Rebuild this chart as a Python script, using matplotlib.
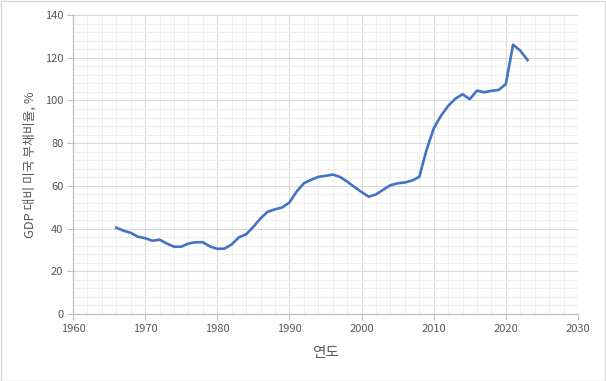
import matplotlib
matplotlib.use("Agg")
import matplotlib.pyplot as plt
from matplotlib.patches import Rectangle
from matplotlib.ticker import MultipleLocator

plt.rcParams['font.family'] = ['Noto Sans CJK KR', 'DejaVu Sans']

# 미국 GDP 대비 부채비율
years = list(range(1966, 2024))
debt_ratio = [
    40.4, 39.0, 38.0, 36.2, 35.5, 34.3, 34.8, 33.0, 31.5, 31.5,
    33.0, 33.6, 33.6, 31.6, 30.5, 30.6, 32.6, 35.9, 37.3, 40.8,
    44.8, 47.9, 49.0, 49.9, 52.2, 57.3, 61.2, 62.8, 64.2, 64.7,
    65.3, 64.2, 62.0, 59.5, 57.1, 54.9, 56.0, 58.2, 60.3, 61.2,
    61.6, 62.5, 64.2, 76.8, 86.9, 92.8, 97.4, 100.8, 102.9, 100.6,
    104.6, 103.8, 104.5, 104.9, 107.7, 126.1, 123.3, 118.9,
]
x_label = "연도"
y_label = "GDP 대비 미국 부채비율, %"

tick_color = "#595959"
major_grid = "#D9D9D9"
minor_grid = "#EFEFEF"

fig = plt.figure(figsize=(6.06, 3.81), dpi=100)
ax = fig.add_axes([73 / 606, 1 - 314 / 381, 505 / 606, 299 / 381])

ax.plot(years, debt_ratio, color="#4472C4", linewidth=1.9, zorder=3)

ax.set_xlim(1960, 2030)
ax.set_ylim(0, 140)
ax.xaxis.set_major_locator(MultipleLocator(10))
ax.xaxis.set_minor_locator(MultipleLocator(2))
ax.yaxis.set_major_locator(MultipleLocator(20))
ax.yaxis.set_minor_locator(MultipleLocator(4))

ax.grid(which="minor", color=minor_grid, linewidth=0.8, zorder=0)
ax.grid(which="major", color=major_grid, linewidth=0.8, zorder=1)
ax.set_axisbelow(True)

for side in ["top", "right"]:
    ax.spines[side].set_visible(False)
for side in ["left", "bottom"]:
    ax.spines[side].set_color("#BFBFBF")
    ax.spines[side].set_linewidth(0.9)

ax.tick_params(which="major", length=4, width=0.8, color="#BFBFBF",
               labelcolor=tick_color, labelsize=8, pad=3)
ax.tick_params(which="minor", length=0)

ax.set_xlabel(x_label, fontsize=10.5, color=tick_color, labelpad=9)
ax.set_ylabel(y_label, fontsize=9.2, color=tick_color, labelpad=6)

# 바깥 테두리
fig.patches.append(Rectangle((0.001, 0.001), 0.997, 0.996, transform=fig.transFigure,
                             fill=False, edgecolor="#D9D9D9", linewidth=1))

fig.savefig("out.png", dpi=100)
